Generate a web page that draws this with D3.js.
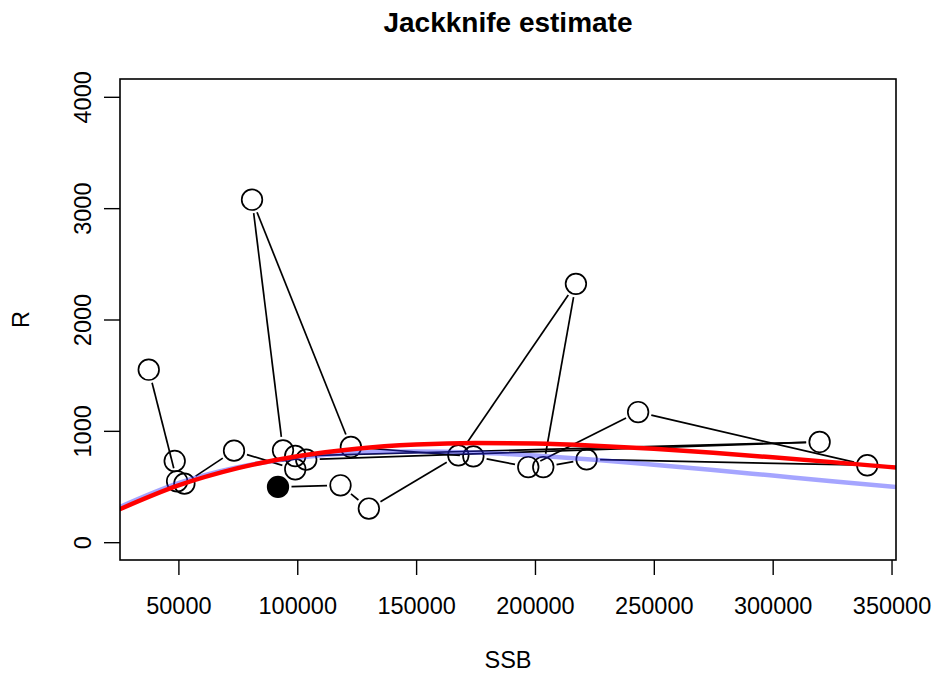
<!DOCTYPE html>
<html><head><meta charset="utf-8">
<script src="https://cdn.jsdelivr.net/npm/d3@7"></script>
<style>body{margin:0;background:#fff}svg{display:block}text{font-family:"Liberation Sans",Arial,sans-serif}</style>
</head><body>
<script>
// Observed points, in drawing (connection) order
const ssb = [91900,118200,130120,167770,217230,203490,221720,339790,243400,197180,174080,122560,80970,94000,99160,319750,103780,99160,73400,52520,48445,49450,37521];
const rec = [496,511,302,780,2320,675,744,691,1169,675,771,855,3076,825,774,900,741,655,822,526,729,547,1549];
const filledIndex = 0;
// Fitted curves
const fitSSB = [25000,50000,75000,100000,125000,150000,175000,200000,225000,250000,275000,300000,325000,352000];
const redR  = [293,510,665,772,840,877,891,886,867,839,803,762,719,670];
const blueR = [313,530,673,759,803,815,805,778,741,696,648,598,548,496];
const xTicks = [50000,100000,150000,200000,250000,300000,350000];
const yTicks = [0,1000,2000,3000,4000];
const title = "Jackknife estimate", xLab = "SSB", yLab = "R";

const W = 937, H = 677;
const L = 120, R = 896, T = 79, B = 560;
const svg = d3.select("body").append("svg").attr("width", W).attr("height", H);

const xmin = d3.min(ssb), xmax = d3.max(ssb), dx = xmax - xmin;
const x = d3.scaleLinear().domain([xmin - 0.04*dx, xmax + 0.04*dx]).range([L, R]);
const y = d3.scaleLinear().domain([-160, 4160]).range([B, T]);

svg.append("defs").append("clipPath").attr("id","clip")
  .append("rect").attr("x",L).attr("y",T).attr("width",R-L).attr("height",B-T);

// axes
const xa = svg.append("g").attr("transform",`translate(0,${B})`)
  .call(d3.axisBottom(x).tickValues(xTicks).tickSize(15).tickSizeOuter(0).tickFormat(d3.format("d")));
xa.select(".domain").remove();
xa.selectAll("line").attr("stroke","#000").attr("stroke-width",1.4);
xa.selectAll("text").attr("font-size","23.5px").attr("fill","#000").attr("dy",null).attr("y",54);

const ya = svg.append("g").attr("transform",`translate(${L},0)`)
  .call(d3.axisLeft(y).tickValues(yTicks).tickSize(16).tickSizeOuter(0).tickFormat(d3.format("d")));
ya.select(".domain").remove();
ya.selectAll("line").attr("stroke","#000").attr("stroke-width",1.4);
ya.selectAll("text").attr("font-size","23.5px").attr("fill","#000")
  .attr("x",null).attr("dy",null).attr("text-anchor","middle")
  .attr("transform","translate(-29,0) rotate(-90)");

// points connections (type "b": gaps around points)
const px = ssb.map(v => x(v)), py = rec.map(v => y(v));
const gap = 13.5;
const segs = [];
for (let i = 0; i < ssb.length - 1; i++) {
  const x1 = px[i], y1 = py[i], x2 = px[i+1], y2 = py[i+1];
  const len = Math.hypot(x2-x1, y2-y1);
  if (len > 2*gap) {
    const ux = (x2-x1)/len, uy = (y2-y1)/len;
    segs.push([x1+ux*gap, y1+uy*gap, x2-ux*gap, y2-uy*gap]);
  }
}
const g = svg.append("g").attr("clip-path","url(#clip)");
g.selectAll("line.seg").data(segs).enter().append("line")
  .attr("x1",d=>d[0]).attr("y1",d=>d[1]).attr("x2",d=>d[2]).attr("y2",d=>d[3])
  .attr("stroke","#000").attr("stroke-width",1.7);
g.selectAll("circle.pt").data(ssb.map((s,i)=>i)).enter().append("circle")
  .attr("cx",i=>px[i]).attr("cy",i=>py[i]).attr("r",10.3)
  .attr("fill",i=>i===filledIndex?"#000":"none")
  .attr("stroke","#000").attr("stroke-width",1.7);

// fitted curves
const line = d3.line().x((d,i)=>x(fitSSB[i])).y(d=>y(d)).curve(d3.curveMonotoneX);
g.append("path").attr("d",line(blueR)).attr("fill","none")
  .attr("stroke","rgba(40,40,255,0.42)").attr("stroke-width",4.5);
g.append("path").attr("d",line(redR)).attr("fill","none")
  .attr("stroke","#ff0000").attr("stroke-width",4.5);

// box
svg.append("rect").attr("x",L).attr("y",T).attr("width",R-L).attr("height",B-T)
  .attr("fill","none").attr("stroke","#000").attr("stroke-width",1.6);

// labels
svg.append("text").attr("x",(L+R)/2).attr("y",32).attr("text-anchor","middle")
  .attr("font-size","28px").attr("font-weight","bold").text(title);
svg.append("text").attr("x",(L+R)/2).attr("y",668).attr("text-anchor","middle")
  .attr("font-size","23.5px").text(xLab);
svg.append("text").attr("transform",`translate(29,${(T+B)/2}) rotate(-90)`).attr("text-anchor","middle")
  .attr("font-size","23.5px").text(yLab);
</script>
</body></html>
